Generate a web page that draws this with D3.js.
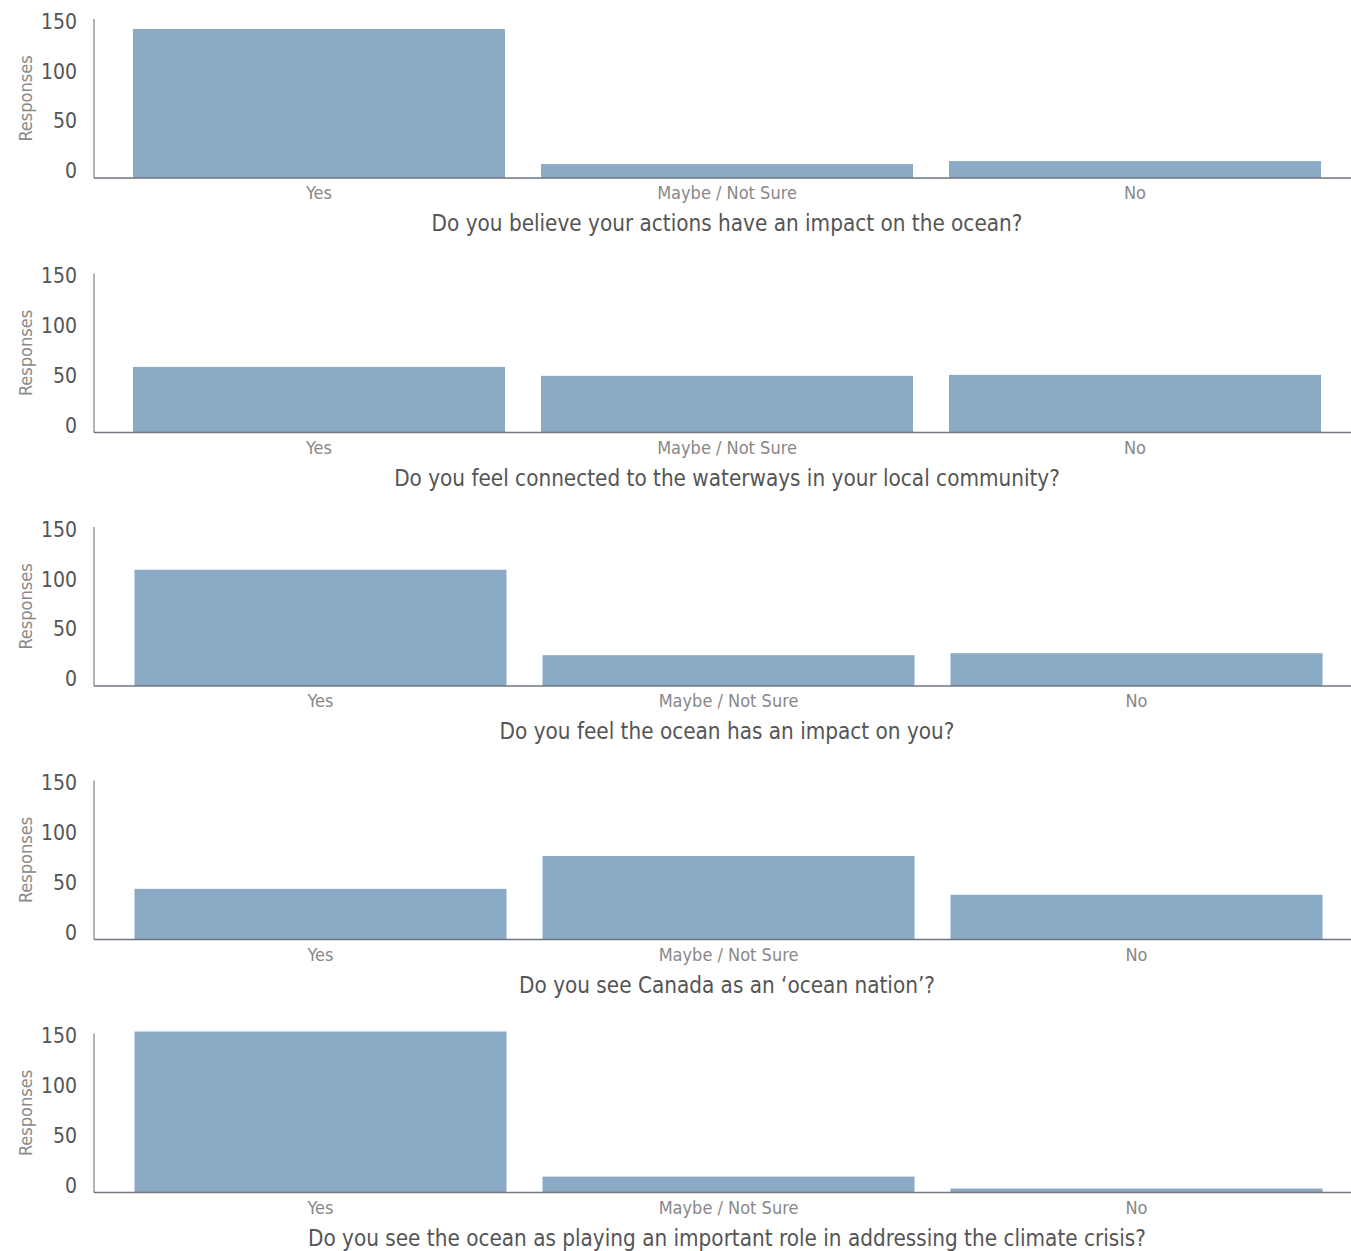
<!DOCTYPE html>
<html><head><meta charset="utf-8">
<script src="https://cdn.jsdelivr.net/npm/d3@7"></script>
<style>
body{margin:0;background:#fff;}
text{font-family:"Liberation Sans Narrow","DejaVu Sans Condensed",sans-serif;}
</style></head>
<body><svg id="c" width="1351" height="1251"></svg>
<script>
const categories = ["Yes", "Maybe / Not Sure", "No"];
const questions = [
  "Do you believe your actions have an impact on the ocean?",
  "Do you feel connected to the waterways in your local community?",
  "Do you feel the ocean has an impact on you?",
  "Do you see Canada as an \u2018ocean nation\u2019?",
  "Do you see the ocean as playing an important role in addressing the climate crisis?"
];
const q1Values = [150, 14, 17];
const q2Values = [66, 57, 58];
const q3Values = [117, 31, 33];
const q4Values = [51, 84, 45];
const q5Values = [162, 16, 4];
const seriesValues = [q1Values, q2Values, q3Values, q4Values, q5Values];
const yTicks = [0, 50, 100, 150];
const yMax = 160;

const svg = d3.select("#c");
const axisX = 94, rightX = 1351;
const baselines = [178, 432.5, 686, 939.5, 1192.5];
const plotH = 159;

seriesValues.forEach((vals, i) => {
  const base = baselines[i];
  const shift = i >= 2 ? 1.5 : 0;
  const x = d3.scaleBand().domain(categories).range([115 + shift, 1339 + shift]).paddingInner(0.0882).paddingOuter(0.0441);
  const y = d3.scaleLinear().domain([0, yMax]).range([base, base - plotH]);
  const g = svg.append("g");
  g.selectAll("rect").data(vals).join("rect")
    .attr("x", (d, j) => x(categories[j]))
    .attr("width", x.bandwidth())
    .attr("y", d => y(d))
    .attr("height", d => y(0) - y(d))
    .attr("fill", "#8aaac6");
  g.append("line").attr("x1", axisX).attr("x2", axisX)
    .attr("y1", y(yMax)).attr("y2", y(0))
    .attr("stroke", "#9a9a9a").attr("stroke-width", 1.5);
  g.append("line").attr("x1", axisX).attr("x2", rightX)
    .attr("y1", y(0)).attr("y2", y(0))
    .attr("stroke", "#6e7680").attr("stroke-width", 1.5);
  g.selectAll("text.yt").data(yTicks).join("text").attr("class", "yt")
    .attr("x", 77).attr("y", d => y(d))
    .attr("text-anchor", "end")
    .attr("font-size", 21).attr("fill", "#555")
    .text(d => d);
  g.append("text")
    .attr("transform", `translate(32,${(y(0) + y(yMax)) / 2}) rotate(-90)`)
    .attr("text-anchor", "middle")
    .attr("font-size", 18).attr("fill", "#8a8a8a")
    .text("Responses");
  g.selectAll("text.xc").data(categories).join("text").attr("class", "xc")
    .attr("x", d => x(d) + x.bandwidth() / 2)
    .attr("y", base + 21)
    .attr("text-anchor", "middle")
    .attr("font-size", 18).attr("fill", "#888")
    .text(d => d);
  g.append("text")
    .attr("x", 727).attr("y", base + 53)
    .attr("text-anchor", "middle")
    .attr("font-size", 22.3).attr("fill", "#555")
    .text(questions[i]);
});
</script></body></html>
